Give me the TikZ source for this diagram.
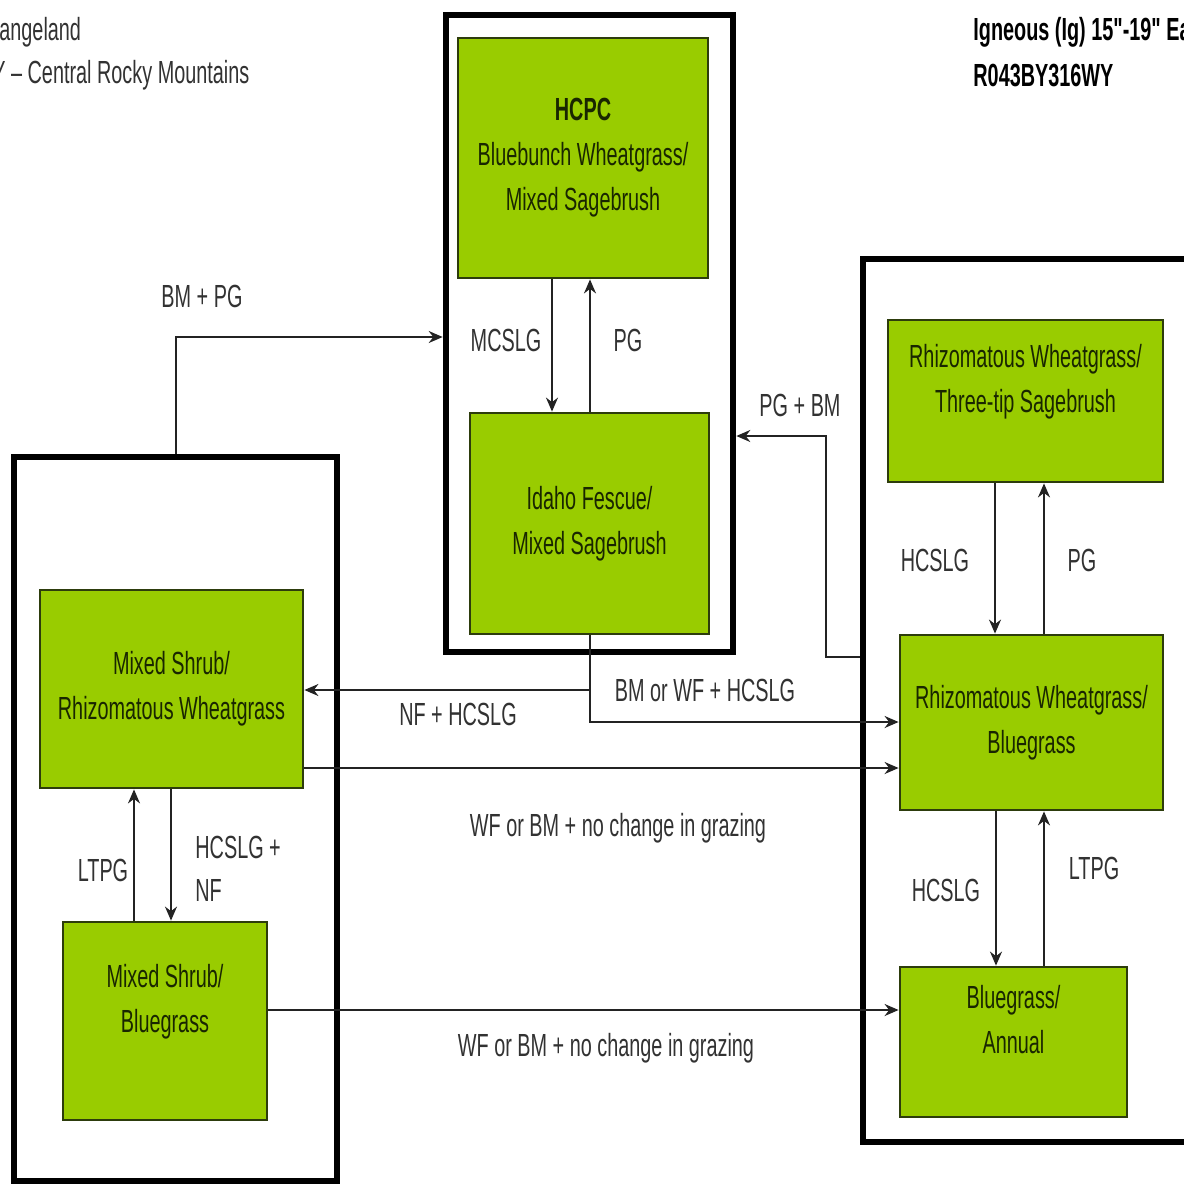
\documentclass[tikz,border=0pt]{standalone}
\usepackage{fontspec}
\setmainfont[FakeStretch=0.62]{Liberation Sans}
\newfontfamily\brut[FakeStretch=0.62]{Liberation Sans}
\usepackage{tikz}
\usetikzlibrary{shapes,arrows.meta}

\definecolor{vert}{RGB}{153,204,0}
\definecolor{bordvert}{RGB}{45,60,12}
\definecolor{textevert}{RGB}{25,38,0}
\definecolor{gris}{RGB}{50,50,50}
\definecolor{trait}{RGB}{35,35,35}

\begin{document}
\begin{tikzpicture}[x=0.5pt,y=-0.5pt]
	\tikzstyle{cadre}=[rectangle,draw=black,line width=3.3pt,inner sep=0pt]
	\tikzstyle{etat}=[rectangle,draw=bordvert,line width=1.4pt,fill=vert,
	text=textevert,align=center,inner sep=0pt,font=\fontsize{16}{22.5}\selectfont]
	\tikzstyle{etiq}=[text=gris,align=center,inner sep=0pt,
	font=\fontsize{16}{21.5}\selectfont]
	\tikzstyle{titre}=[text=black,anchor=west,inner sep=0pt,
	font=\fontsize{16}{21.5}\selectfont]

	\useasboundingbox (0,0) rectangle (1184,1185);

	% cadres
	\node[cadre,minimum width=143.5pt,minimum height=318.5pt] (fcentre) at (589.5,333.5) {};
	\node[cadre,minimum width=161.5pt,minimum height=362pt] (fgauche) at (175.5,819) {};
	\node[cadre,minimum width=176pt,minimum height=441.5pt] (fdroite) at (1039,700.5) {};

	% etats
	\node[etat,minimum width=125pt,minimum height=120pt] (hcpc) at (583,158)
	{{\bfseries HCPC}\\Bluebunch Wheatgrass/\\Mixed Sagebrush};
	\node[etat,minimum width=119.5pt,minimum height=110.5pt] (idaho) at (589.5,523.5)
	{Idaho Fescue/\\Mixed Sagebrush};
	\node[etat,minimum width=137.5pt,minimum height=81pt] (rhiztip) at (1025.5,401)
	{Rhizomatous Wheatgrass/\\Three-tip Sagebrush\\~};
	\node[etat,minimum width=131.5pt,minimum height=87.5pt] (rhizblue) at (1031.5,722.5)
	{Rhizomatous Wheatgrass/\\Bluegrass};
	\node[etat,minimum width=113.5pt,minimum height=75pt] (blueann) at (1013.5,1042)
	{Bluegrass/\\Annual\\~};
	\node[etat,minimum width=131.5pt,minimum height=99pt] (msrhiz) at (171.5,689)
	{Mixed Shrub/\\Rhizomatous Wheatgrass};
	\node[etat,minimum width=102pt,minimum height=99pt] (msblue) at (165,1021)
	{Mixed Shrub/\\Bluegrass\\~};

	% titres
	\node[titre,text=gris] (t1) at (-1,32) {angeland};
	\node[titre,text=gris] (t2) at (-8,75) {Y – Central Rocky Mountains};
	\node[titre,font=\fontsize{16}{21.5}\selectfont\brut\bfseries] (t3) at (973,32)
	{Igneous (Ig) 15"-19" Ea};
	\node[titre,font=\fontsize{16}{21.5}\selectfont\bfseries] (t4) at (973,75)
	{R043BY316WY};

	% etiquettes
	\node[etiq] (e1) at (202,296) {BM + PG};
	\node[etiq] (e2) at (506,340) {MCSLG};
	\node[etiq] (e3) at (628,340) {PG};
	\node[etiq] (e4) at (800,405) {PG + BM};
	\node[etiq] (e5) at (935,560) {HCSLG};
	\node[etiq] (e6) at (1082,560) {PG};
	\node[etiq] (e7) at (705,690) {BM or WF + HCSLG};
	\node[etiq] (e8) at (458,714) {NF + HCSLG};
	\node[etiq] (e9) at (618,828) {WF or BM + no change in grazing};
	\node[etiq] (e10) at (103,870) {LTPG};
	\node[etiq,anchor=west,align=left] (e11) at (195,869) {HCSLG +\\NF};
	\node[etiq] (e12) at (946,890) {HCSLG};
	\node[etiq] (e13) at (1094,868) {LTPG};
	\node[etiq] (e14) at (606,1048) {WF or BM + no change in grazing};

	\tikzstyle{suite}=[-{Stealth[length=7pt,width=6pt]},draw=trait,line width=1pt]

	\draw[suite] (fgauche.north) |- (fcentre.west |- 0,337);
	\draw[suite] (hcpc.south -| 552,0) -- (idaho.north -| 552,0);
	\draw[suite] (idaho.north -| 590,0) -- (hcpc.south -| 590,0);
	\draw[suite] (fdroite.west |- 0,657) -| (826,436) -- (fcentre.east |- 0,436);
	\draw[suite] (rhiztip.south -| 995,0) -- (rhizblue.north -| 995,0);
	\draw[suite] (rhizblue.north -| 1044,0) -- (rhiztip.south -| 1044,0);
	\draw[suite] (idaho.south -| 590,0) -- (590,690) -- (msrhiz.east |- 0,690);
	\draw[suite] (idaho.south -| 590,0) |- (rhizblue.west |- 0,722);
	\draw[suite] (msrhiz.east |- 0,768) -- (rhizblue.west |- 0,768);
	\draw[suite] (msblue.north -| 134,0) -- (msrhiz.south -| 134,0);
	\draw[suite] (msrhiz.south -| 171,0) -- (msblue.north -| 171,0);
	\draw[suite] (rhizblue.south -| 996,0) -- (blueann.north -| 996,0);
	\draw[suite] (blueann.north -| 1044,0) -- (rhizblue.south -| 1044,0);
	\draw[suite] (msblue.east |- 0,1010) -- (blueann.west |- 0,1010);
\end{tikzpicture}
\end{document}
